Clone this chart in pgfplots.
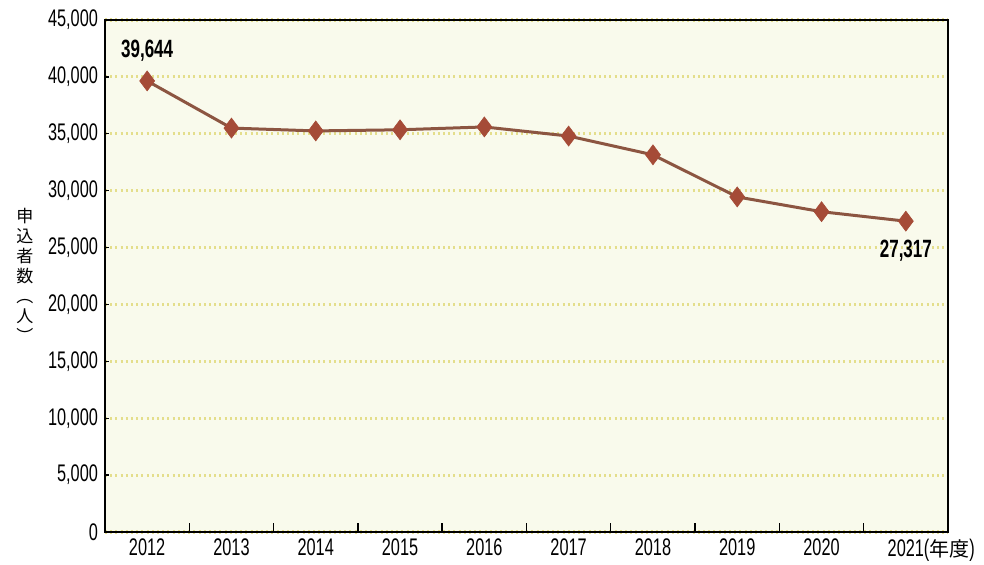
\documentclass[border=0pt]{standalone}
\usepackage{fontspec}
\setmainfont{Liberation Sans}[FakeStretch=0.68]
\newfontfamily\cjk{Noto Sans CJK JP}
\usepackage{pgfplots}
\pgfplotsset{compat=1.18}
\definecolor{bgc}{RGB}{249,250,236}
\definecolor{gridc}{RGB}{228,222,140}
\definecolor{linec}{RGB}{140,85,65}
\definecolor{markc}{RGB}{165,75,55}
\begin{document}
\begin{tikzpicture}
\path[use as bounding box] (-52.5pt,-16.5pt) rectangle (439.5pt,266pt);
\begin{axis}[
  at={(0,0)}, anchor=south west,
  scale only axis, width=421.5pt, height=256pt,
  xmin=-0.5, xmax=9.5, ymin=0, ymax=45000,
  xtick={0,...,9},
  xticklabels={2012,2013,2014,2015,2016,2017,2018,2019,2020,{2021\rlap{({\cjk\fontsize{10}{12}\selectfont 年度})}}},
  major x tick style={draw=none},
  minor xtick={0.5,1.5,...,8.5},
  minor tick length=4.5pt,
  ytick={0,5000,...,45000},
  ymajorgrids,
  grid style={gridc, line width=1.6pt, dash pattern=on 1pt off 1.6pt},
  axis background/.style={fill=bgc},
  axis line style={line width=0.8pt},
  tick style={black, line width=0.7pt},
  tick align=inside,
  xtick pos=bottom, ytick pos=left,
  major tick length=2pt,
  tick label style={font=\fontsize{12}{14}\selectfont},
  scaled y ticks=false,
  clip=false,
  /pgf/number format/1000 sep={,},
  /pgf/number format/assume math mode=true,
]
\addplot[linec, line width=1.5pt, mark=diamond*, mark size=5pt,
  mark options={fill=markc, draw=markc, line width=0.3pt}]
  coordinates {(0,39644)(1,35500)(2,35250)(3,35350)(4,35600)(5,34800)(6,33150)(7,29450)(8,28150)(9,27317)};
\node[font=\bfseries\fontsize{12.5}{14}\selectfont, yshift=15pt] at (axis cs:0,39644) {39,644};
\node[font=\bfseries\fontsize{12.5}{14}\selectfont, yshift=-15pt] at (axis cs:9,27317) {27,317};
\end{axis}
\node[font=\cjk\fontsize{8.5}{10}\selectfont, align=center, inner sep=0pt] at (-40pt,128.5pt) {申\\込\\者\\数\\︵\\人\\︶};
\end{tikzpicture}
\end{document}
